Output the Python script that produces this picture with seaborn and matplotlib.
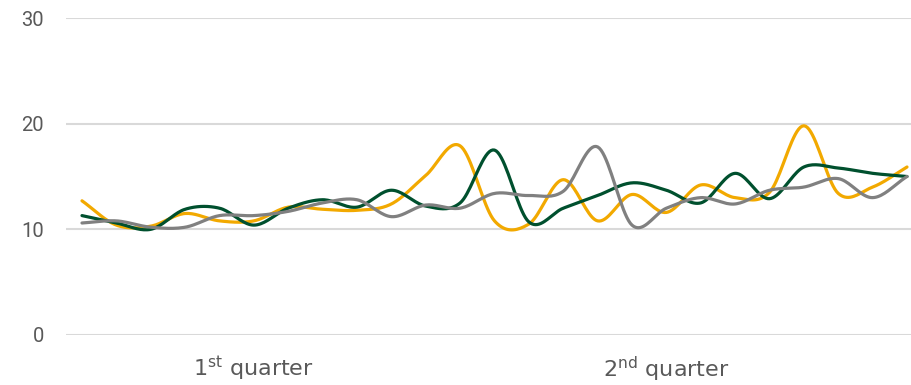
import numpy as np
import pandas as pd
import seaborn as sns
import matplotlib
matplotlib.use('Agg')
import matplotlib.pyplot as plt

# values, one point per period
orange = [12.7, 10.4, 10.3, 11.5, 10.8, 10.8, 12.1, 11.9, 11.8, 12.4, 15.1, 17.9, 10.8,
          10.5, 14.7, 10.8, 13.3, 11.6, 14.2, 13.0, 13.5, 19.8, 13.4, 14.0, 15.9]
green = [11.3, 10.6, 10.0, 11.9, 12.0, 10.4, 12.0, 12.8, 12.1, 13.7, 12.2, 12.5, 17.5,
         10.7, 12.0, 13.2, 14.4, 13.7, 12.5, 15.3, 12.9, 15.9, 15.8, 15.3, 15.0]
gray = [10.6, 10.8, 10.2, 10.2, 11.3, 11.3, 11.7, 12.5, 12.8, 11.2, 12.3, 12.0, 13.4,
        13.2, 13.6, 17.8, 10.4, 12.0, 13.0, 12.4, 13.7, 14.0, 14.8, 13.0, 15.0]
series_names = ['Series 1', 'Series 2', 'Series 3']
quarter_labels = ['1$^{\\mathregular{st}}$ quarter', '2$^{\\mathregular{nd}}$ quarter']
quarter_ticks = [5, 17]
y_ticks = [0, 10, 20, 30]

colors = ['#F2A900', '#00502E', '#808080']


def smooth(values, n=20):
    # Catmull-Rom spline through the points, like Excel's smoothed line
    p = np.asarray(values, dtype=float)
    p = np.concatenate([[2 * p[0] - p[1]], p, [2 * p[-1] - p[-2]]])
    xs, ys = [], []
    for i in range(1, len(p) - 2):
        t = np.linspace(0, 1, n, endpoint=False)
        p0, p1, p2, p3 = p[i - 1], p[i], p[i + 1], p[i + 2]
        y = 0.5 * ((2 * p1) + (-p0 + p2) * t + (2 * p0 - 5 * p1 + 4 * p2 - p3) * t ** 2
                   + (-p0 + 3 * p1 - 3 * p2 + p3) * t ** 3)
        xs.extend(i - 1 + t)
        ys.extend(y)
    xs.append(len(values) - 1)
    ys.append(values[-1])
    return np.array(xs), np.array(ys)


frames = []
for name, vals in zip(series_names, [orange, green, gray]):
    sx, sy = smooth(vals)
    frames.append(pd.DataFrame({'x': sx, 'y': sy, 'series': name}))
df = pd.concat(frames, ignore_index=True)

sns.set_style('white')
plt.rcParams['font.family'] = ['Roboto', 'DejaVu Sans']

fig = plt.figure(figsize=(9.11, 3.85), dpi=100)
ax = fig.add_axes([66 / 911, 50 / 385, 845 / 911, 317 / 385])

sns.lineplot(data=df, x='x', y='y', hue='series', palette=colors, sort=False,
             estimator=None, linewidth=2.3, legend=False, ax=ax)

ax.set_ylim(0, 30)
ax.set_xlim(-16 / 34.4, 24 + 4 / 34.4)
ax.set_yticks(y_ticks)
ax.yaxis.grid(True, color='#D9D9D9', linewidth=1.5)
ax.set_axisbelow(True)
ax.tick_params(axis='y', length=0, pad=16, labelsize=14.5, labelcolor='#595959')
ax.set_xticks(quarter_ticks)
ax.set_xticklabels(quarter_labels, fontsize=16, color='#595959',
                   family=['Liberation Sans Narrow', 'DejaVu Sans'])
ax.tick_params(axis='x', length=0, pad=14)
ax.set_xlabel('')
ax.set_ylabel('')
for s in ax.spines.values():
    s.set_visible(False)

fig.savefig('out.png', dpi=100)
